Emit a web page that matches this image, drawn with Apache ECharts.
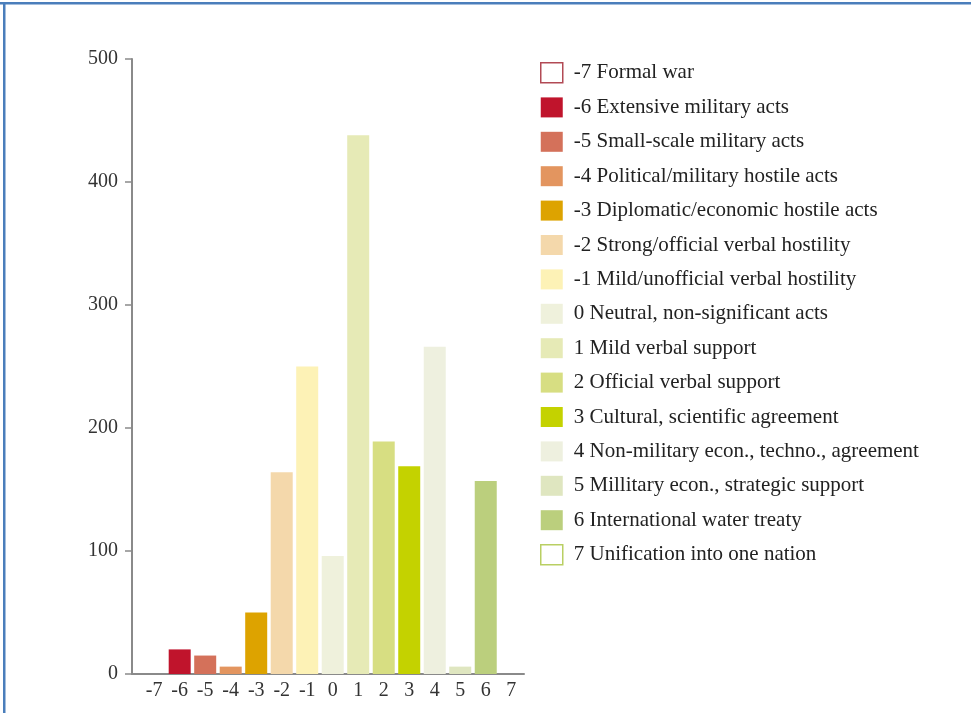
<!DOCTYPE html>
<html>
<head>
<meta charset="utf-8">
<script src="https://cdn.jsdelivr.net/npm/echarts@6/dist/echarts.min.js"></script>
<style>
html,body{margin:0;padding:0;background:#fff;}
#chart{width:971px;height:713px;}
</style>
</head>
<body>
<div id="chart"></div>
<script>
const categories = [-7, -6, -5, -4, -3, -2, -1, 0, 1, 2, 3, 4, 5, 6, 7];
const counts = [0, 20, 15, 6, 50, 164, 250, 96, 438, 189, 169, 266, 6, 157, 0];
const legendLabels = [
  '-7 Formal war',
  '-6 Extensive military acts',
  '-5 Small-scale military acts',
  '-4 Political/military hostile acts',
  '-3 Diplomatic/economic hostile acts',
  '-2 Strong/official verbal hostility',
  '-1 Mild/unofficial verbal hostility',
  '0 Neutral, non-significant acts',
  '1 Mild verbal support',
  '2 Official verbal support',
  '3 Cultural, scientific agreement',
  '4 Non-military econ., techno., agreement',
  '5 Millitary econ., strategic support',
  '6 International water treaty',
  '7 Unification into one nation'
];
const fillColors = ['#ffffff', '#c0142c', '#d4715a', '#e3955f', '#dda300', '#f4d8ab', '#fdf2b6', '#eff1dc', '#e6eab6', '#d7de82', '#c4d200', '#eef0df', '#dfe6c0', '#bbcf7d', '#ffffff'];
const borderColors = ['#b24a55', null, null, null, null, null, null, null, null, null, null, null, null, null, '#b9cf63'];
const yTicks = [0, 100, 200, 300, 400, 500];

const font = "'Liberation Serif', 'Times New Roman', serif";
const chart = echarts.init(document.getElementById('chart'), null, {renderer: 'canvas'});

const series = categories.map((c, i) => ({
  type: 'bar',
  name: legendLabels[i],
  data: [[c, counts[i]]],
  barWidth: 22,
  barGap: '-100%',
  itemStyle: {color: fillColors[i], borderWidth: 0},
  emphasis: {disabled: true},
  animation: false
}));

const legendData = legendLabels.map((name, i) => borderColors[i]
  ? {name: name, itemStyle: {color: '#ffffff', borderColor: borderColors[i], borderWidth: 1.5}}
  : {name: name});

chart.setOption({
  backgroundColor: '#ffffff',
  animation: false,
  grid: {left: 132, right: 447, top: 59, bottom: 39, containLabel: false},
  xAxis: {
    type: 'value',
    min: -7.87,
    max: 7.5,
    axisLine: {show: true, onZero: false, lineStyle: {color: '#8a8a8a', width: 2}},
    axisTick: {show: false},
    splitLine: {show: false},
    axisLabel: {
      customValues: categories,
      color: '#333',
      fontFamily: font,
      fontSize: 20,
      margin: 7,
      formatter: v => String(v)
    }
  },
  yAxis: {
    type: 'value',
    min: yTicks[0],
    max: yTicks[yTicks.length - 1],
    interval: 100,
    axisLine: {show: true, onZero: false, lineStyle: {color: '#8a8a8a', width: 2}},
    axisTick: {show: true, length: 7, lineStyle: {color: '#8a8a8a', width: 1.5}},
    splitLine: {show: false},
    axisLabel: {color: '#333', fontFamily: font, fontSize: 20, margin: 14}
  },
  legend: {
    orient: 'vertical',
    left: 535,
    top: 57,
    itemWidth: 22,
    itemHeight: 20,
    itemGap: 13.4,
    icon: 'rect',
    selectedMode: false,
    textStyle: {color: '#222', fontFamily: font, fontSize: 21, padding: [0, 0, 0, 6]},
    data: legendData
  },
  graphic: [
    {type: 'rect', shape: {x: 0, y: 2, width: 971, height: 2.5}, style: {fill: '#4a7ebb'}, silent: true},
    {type: 'rect', shape: {x: 3, y: 2, width: 2.5, height: 711}, style: {fill: '#4a7ebb'}, silent: true}
  ],
  series: series
});
</script>
</body>
</html>
